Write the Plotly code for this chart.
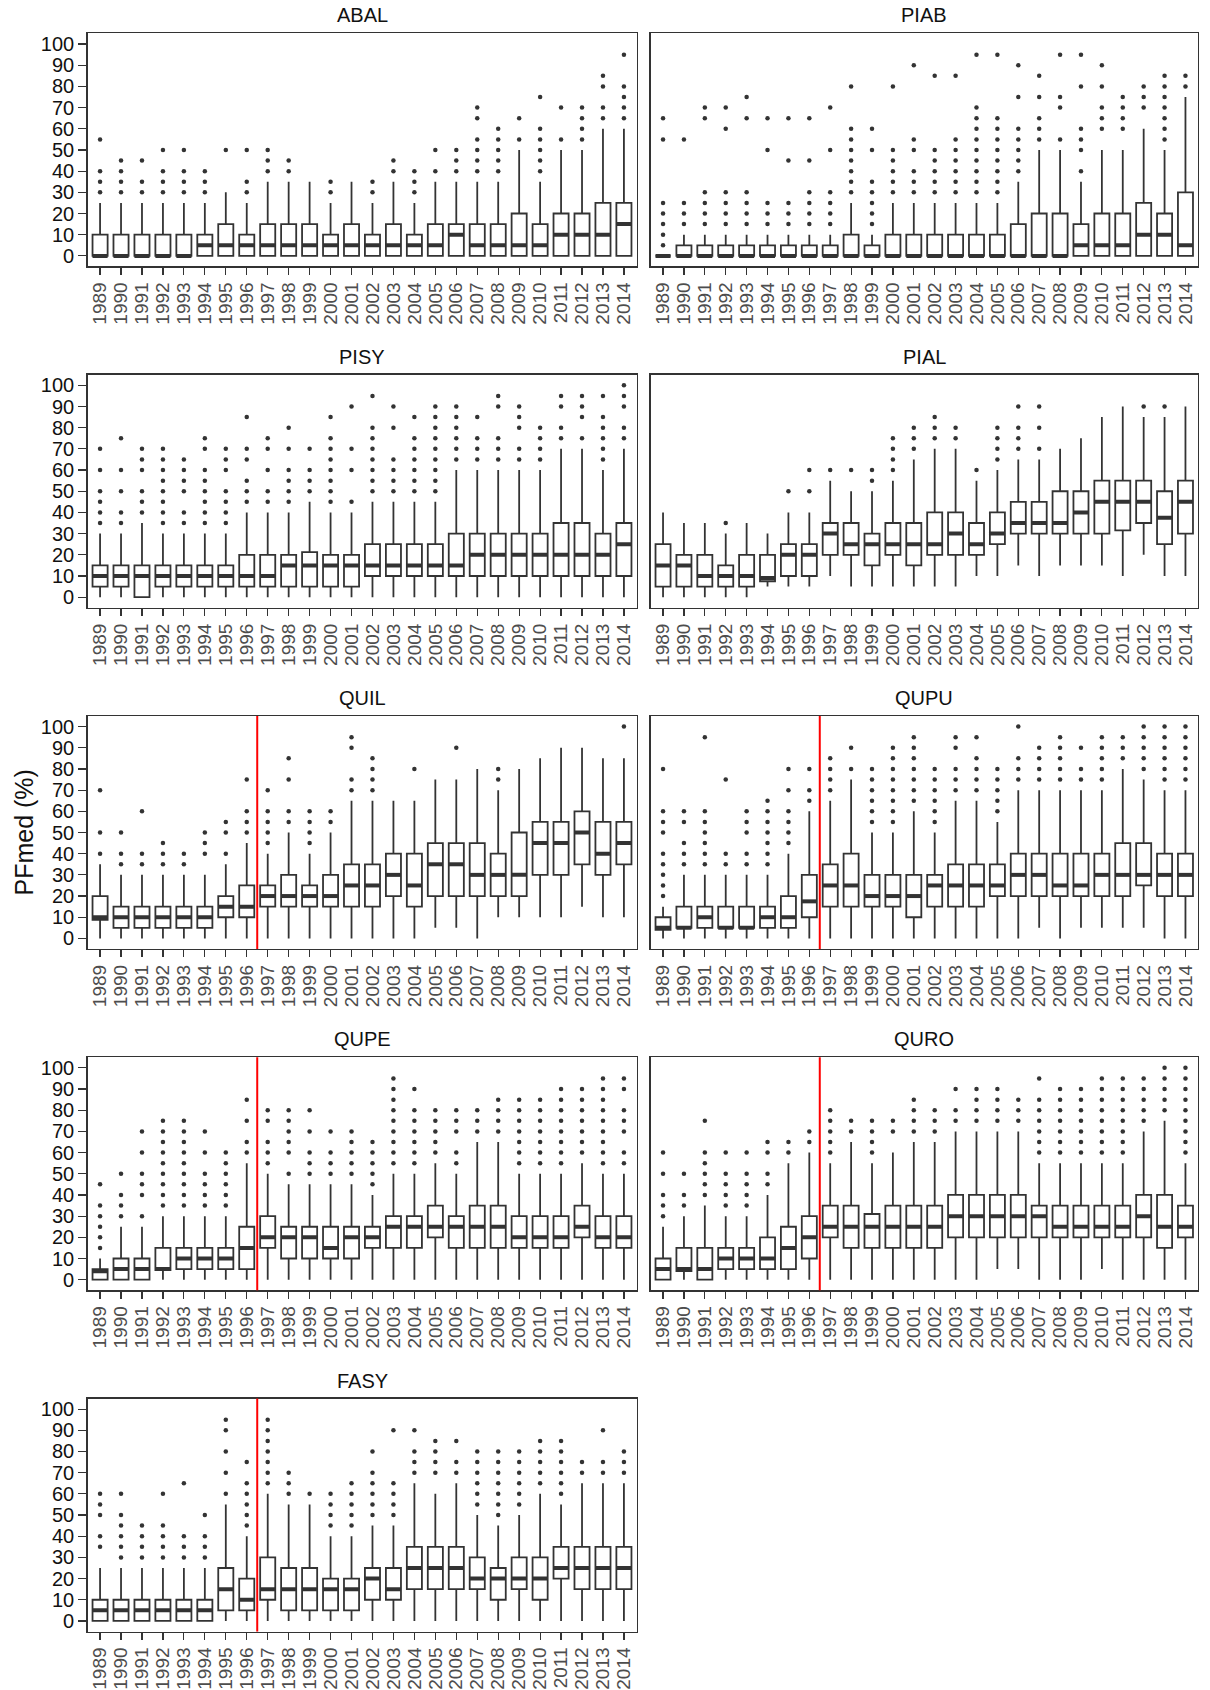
import plotly.graph_objects as go

# ---------------- data ----------------
YEARS = ["1989", "1990", "1991", "1992", "1993", "1994", "1995", "1996", "1997",
         "1998", "1999", "2000", "2001", "2002", "2003", "2004", "2005", "2006",
         "2007", "2008", "2009", "2010", "2011", "2012", "2013", "2014"]

PANELS = ["ABAL", "PIAB", "PISY", "PIAL", "QUIL", "QUPU", "QUPE", "QURO", "FASY"]
RED_LINE_PANELS = ["QUIL", "QUPU", "QUPE", "QURO", "FASY"]
RED_LINE_BETWEEN = ("1996", "1997")

Y_TICKS = [0, 10, 20, 30, 40, 50, 60, 70, 80, 90, 100]
Y_TITLE = "PFmed (%)"

# ABAL
ABAL_q1 = [0] * 26
ABAL_med = [0, 0, 0, 0, 0, 5, 5, 5, 5, 5, 5, 5, 5, 5, 5, 5, 5, 10, 5, 5, 5, 5, 10, 10, 10, 15]
ABAL_q3 = [10, 10, 10, 10, 10, 10, 15, 10, 15, 15, 15, 10, 15, 10, 15, 10, 15, 15, 15, 15, 20, 15, 20, 20, 25, 25]
ABAL_lo = [0] * 26
ABAL_hi = [25, 25, 25, 25, 25, 25, 30, 25, 35, 35, 35, 25, 35, 25, 35, 25, 35, 35, 35, 35, 50, 35, 50, 50, 60, 60]
ABAL_out = [[30, 35, 40, 55], [30, 35, 40, 45], [30, 35, 45], [30, 35, 40, 50], [30, 35, 40, 50],
            [30, 35, 40], [50], [30, 35, 50], [40, 45, 50], [40, 45], [], [30, 35], [], [30, 35],
            [40, 45], [30, 35, 40], [40, 50], [40, 45, 50], [40, 45, 50, 55, 65, 70],
            [40, 45, 50, 55, 60], [55, 65], [40, 45, 50, 55, 60, 75], [55, 70], [55, 60, 65, 70],
            [65, 70, 80, 85], [65, 70, 75, 80, 95]]

# PIAB
PIAB_q1 = [0] * 26
PIAB_med = [0, 0, 0, 0, 0, 0, 0, 0, 0, 0, 0, 0, 0, 0, 0, 0, 0, 0, 0, 0, 5, 5, 5, 10, 10, 5]
PIAB_q3 = [0, 5, 5, 5, 5, 5, 5, 5, 5, 10, 5, 10, 10, 10, 10, 10, 10, 15, 20, 20, 15, 20, 20, 25, 20, 30]
PIAB_lo = [0] * 26
PIAB_hi = [0, 10, 10, 10, 10, 10, 10, 10, 10, 25, 10, 25, 25, 25, 25, 25, 25, 35, 50, 50, 35, 50, 50, 60, 50, 75]
PIAB_out = [[5, 10, 15, 20, 25, 55, 65], [15, 20, 25, 55], [15, 20, 25, 30, 65, 70],
            [15, 20, 25, 30, 60, 70], [15, 20, 25, 30, 65, 75], [15, 20, 25, 50, 65],
            [15, 20, 25, 45, 65], [15, 20, 25, 30, 45, 65], [15, 20, 25, 30, 50, 70],
            [30, 35, 40, 45, 50, 55, 60, 80], [15, 20, 25, 30, 35, 50, 60],
            [30, 35, 40, 45, 50, 80], [30, 35, 40, 50, 55, 90], [30, 35, 40, 45, 50, 85],
            [30, 35, 40, 45, 50, 55, 85], [30, 35, 40, 45, 50, 55, 60, 65, 70, 95],
            [30, 35, 40, 45, 50, 55, 60, 65, 95], [40, 45, 50, 55, 60, 75, 90],
            [55, 60, 65, 75, 85], [55, 70, 75, 95], [40, 50, 55, 60, 80, 95],
            [60, 65, 70, 80, 90], [60, 65, 70, 75], [70, 75, 80],
            [55, 60, 65, 70, 75, 80, 85], [80, 85]]

# PISY
PISY_q1 = [5, 5, 0, 5, 5, 5, 5, 5, 5, 5, 5, 5, 5, 10, 10, 10, 10, 10, 10, 10, 10, 10, 10, 10, 10, 10]
PISY_med = [10, 10, 10, 10, 10, 10, 10, 10, 10, 15, 15, 15, 15, 15, 15, 15, 15, 15, 20, 20, 20, 20, 20, 20, 20, 25]
PISY_q3 = [15, 15, 15, 15, 15, 15, 15, 20, 20, 20, 21.25, 20, 20, 25, 25, 25, 25, 30, 30, 30, 30, 30, 35, 35, 30, 35]
PISY_lo = [0] * 26
PISY_hi = [30, 30, 35, 30, 30, 30, 30, 40, 40, 40, 45, 40, 40, 45, 45, 45, 45, 60, 60, 60, 60, 60, 70, 70, 60, 70]
PISY_out = [[35, 40, 45, 50, 60, 70], [35, 40, 50, 60, 75], [40, 45, 50, 60, 65, 70],
            [35, 40, 45, 50, 55, 60, 65, 70], [35, 40, 50, 55, 60, 65],
            [35, 40, 45, 50, 55, 60, 70, 75], [35, 40, 45, 50, 60, 65, 70],
            [45, 50, 55, 65, 70, 85], [45, 50, 60, 70, 75], [45, 50, 55, 60, 70, 80],
            [50, 55, 60, 70], [45, 50, 55, 60, 65, 70, 75, 85], [45, 60, 70, 90],
            [50, 55, 60, 65, 70, 75, 80, 95], [50, 55, 60, 65, 80, 90],
            [50, 55, 60, 65, 70, 75, 85], [50, 55, 60, 65, 70, 75, 80, 85, 90],
            [65, 70, 75, 80, 85, 90], [65, 70, 75, 85], [65, 70, 75, 90, 95],
            [65, 70, 80, 85, 90], [65, 70, 75, 80], [75, 80, 90, 95], [75, 85, 90, 95],
            [65, 70, 75, 80, 85, 95], [75, 80, 90, 95, 100]]

# PIAL
PIAL_q1 = [5, 5, 5, 5, 5, 7.5, 10, 10, 20, 20, 15, 20, 15, 20, 20, 20, 25, 30, 30, 30, 30, 30, 31.5, 35, 25, 30]
PIAL_med = [15, 15, 10, 10, 10, 9, 20, 20, 30, 25, 25, 25, 25, 25, 30, 25, 30, 35, 35, 35, 40, 45, 45, 45, 37.5, 45]
PIAL_q3 = [25, 20, 20, 15, 20, 20, 25, 25, 35, 35, 30, 35, 35, 40, 40, 35, 40, 45, 45, 50, 50, 55, 55, 55, 50, 55]
PIAL_lo = [0, 0, 0, 0, 0, 5, 5, 5, 10, 5, 5, 5, 5, 5, 5, 10, 10, 15, 10, 15, 15, 15, 10, 20, 10, 10]
PIAL_hi = [40, 35, 35, 30, 35, 30, 40, 40, 55, 50, 50, 55, 65, 70, 70, 55, 60, 65, 65, 70, 75, 85, 90, 85, 85, 90]
PIAL_out = [[], [], [], [35], [], [], [50], [50, 60], [60], [60], [55, 60], [60, 65, 70, 75],
            [70, 75, 80], [75, 80, 85], [75, 80], [60], [65, 70, 75, 80], [70, 75, 80, 90],
            [70, 80, 90], [], [], [], [], [90], [90], []]

# QUIL
QUIL_q1 = [8.75, 5, 5, 5, 5, 5, 10, 10, 15, 15, 15, 15, 15, 15, 20, 15, 20, 20, 20, 20, 20, 30, 30, 35, 30, 35]
QUIL_med = [10, 10, 10, 10, 10, 10, 15, 15, 20, 20, 20, 20, 25, 25, 30, 25, 35, 35, 30, 30, 30, 45, 45, 50, 40, 45]
QUIL_q3 = [20, 15, 15, 15, 15, 15, 20, 25, 25, 30, 25, 30, 35, 35, 40, 40, 45, 45, 45, 40, 50, 55, 55, 60, 55, 55]
QUIL_lo = [0, 0, 0, 0, 0, 0, 0, 0, 0, 0, 0, 0, 0, 0, 0, 0, 5, 5, 0, 10, 10, 10, 10, 15, 10, 10]
QUIL_hi = [35, 30, 30, 30, 30, 30, 35, 45, 40, 50, 40, 50, 65, 65, 65, 65, 75, 75, 80, 70, 80, 85, 90, 90, 85, 85]
QUIL_out = [[40, 50, 70], [35, 40, 50], [35, 40, 60], [35, 40, 45], [35, 40], [40, 45, 50],
            [40, 50, 55], [50, 55, 60, 75], [45, 50, 55, 60, 70], [55, 60, 75, 85],
            [45, 50, 55, 60], [55, 60], [70, 75, 90, 95], [70, 75, 80, 85], [], [80], [],
            [90], [], [75, 80], [], [], [], [], [], [100]]

# QUPU
QUPU_q1 = [4, 5, 5, 5, 5, 5, 5, 10, 15, 15, 15, 15, 10, 15, 15, 15, 20, 20, 20, 20, 20, 20, 20, 25, 20, 20]
QUPU_med = [5, 5, 10, 5, 5, 10, 10, 17.5, 25, 25, 20, 20, 20, 25, 25, 25, 25, 30, 30, 25, 25, 30, 30, 30, 30, 30]
QUPU_q3 = [10, 15, 15, 15, 15, 15, 20, 30, 35, 40, 30, 30, 30, 30, 35, 35, 35, 40, 40, 40, 40, 40, 45, 45, 40, 40]
QUPU_lo = [0, 0, 0, 0, 0, 0, 0, 0, 0, 0, 0, 0, 0, 0, 0, 0, 0, 0, 5, 0, 5, 5, 5, 5, 0, 0]
QUPU_hi = [15, 30, 30, 30, 30, 30, 40, 60, 65, 75, 50, 50, 60, 50, 65, 65, 55, 70, 70, 70, 70, 70, 80, 75, 70, 70]
QUPU_out = [[20, 25, 30, 35, 40, 50, 55, 60, 80], [35, 40, 45, 55, 60],
            [35, 40, 45, 50, 55, 60, 95], [35, 40, 75], [35, 40, 50, 55, 60],
            [35, 40, 45, 50, 55, 60, 65], [45, 50, 55, 60, 70, 80], [65, 70, 80],
            [70, 75, 80, 85], [80, 90], [55, 60, 65, 70, 75, 80],
            [55, 60, 65, 70, 75, 80, 85, 90], [65, 70, 75, 80, 85, 90, 95],
            [55, 60, 65, 70, 75, 80], [70, 75, 80, 90, 95], [70, 75, 80, 85, 95],
            [60, 65, 70, 75, 80], [75, 80, 85, 100], [75, 80, 85, 90], [75, 80, 85, 90, 95],
            [75, 80, 90], [75, 80, 85, 90, 95], [85, 90, 95], [80, 85, 90, 95, 100],
            [75, 80, 85, 90, 95, 100], [75, 80, 85, 90, 95, 100]]

# QUPE
QUPE_q1 = [0, 0, 0, 4.5, 5, 5, 5, 5, 15, 10, 10, 10, 10, 15, 15, 15, 20, 15, 15, 15, 15, 15, 15, 20, 15, 15]
QUPE_med = [4, 5, 5, 5, 10, 10, 10, 15, 20, 20, 20, 15, 20, 20, 25, 25, 25, 25, 25, 25, 20, 20, 20, 25, 20, 20]
QUPE_q3 = [5, 10, 10, 15, 15, 15, 15, 25, 30, 25, 25, 25, 25, 25, 30, 30, 35, 30, 35, 35, 30, 30, 30, 35, 30, 30]
QUPE_lo = [0] * 26
QUPE_hi = [10, 25, 25, 30, 30, 30, 30, 55, 50, 45, 45, 45, 45, 40, 50, 50, 55, 50, 65, 65, 50, 50, 50, 55, 50, 50]
QUPE_out = [[15, 20, 25, 30, 35, 45], [30, 35, 40, 50], [30, 40, 45, 50, 60, 70],
            [35, 40, 45, 50, 55, 60, 65, 70, 75], [35, 40, 45, 50, 55, 60, 65, 70, 75],
            [35, 40, 45, 50, 60, 70], [35, 40, 45, 50, 55, 60], [60, 65, 75, 85],
            [55, 60, 65, 75, 80], [50, 60, 65, 70, 75, 80], [50, 55, 60, 70, 80],
            [50, 55, 60, 70], [50, 55, 60, 65, 70], [45, 50, 55, 60, 65],
            [55, 60, 65, 70, 75, 80, 85, 90, 95], [55, 60, 65, 70, 75, 80, 90],
            [60, 65, 70, 75, 80], [55, 60, 70, 75, 80], [70, 75, 80], [70, 75, 80, 85],
            [55, 60, 65, 70, 75, 80, 85], [55, 60, 65, 70, 75, 80, 85],
            [55, 60, 65, 70, 75, 80, 85, 90], [60, 65, 70, 75, 80, 85, 90],
            [55, 60, 65, 70, 75, 80, 85, 90, 95], [55, 60, 70, 75, 80, 90, 95]]

# QURO
QURO_q1 = [0, 4, 0, 5, 5, 5, 5, 10, 20, 15, 15, 15, 15, 15, 20, 20, 20, 20, 20, 20, 20, 20, 20, 20, 15, 20]
QURO_med = [5, 5, 5, 10, 10, 10, 15, 20, 25, 25, 25, 25, 25, 25, 30, 30, 30, 30, 30, 25, 25, 25, 25, 30, 25, 25]
QURO_q3 = [10, 15, 15, 15, 15, 20, 25, 30, 35, 35, 31, 35, 35, 35, 40, 40, 40, 40, 35, 35, 35, 35, 35, 40, 40, 35]
QURO_lo = [0, 0, 0, 0, 0, 0, 0, 0, 0, 0, 0, 0, 0, 0, 0, 0, 5, 5, 0, 0, 0, 5, 0, 0, 0, 0]
QURO_hi = [25, 30, 35, 30, 30, 40, 55, 60, 55, 65, 55, 60, 65, 65, 70, 70, 70, 70, 55, 55, 55, 55, 55, 70, 75, 55]
QURO_out = [[30, 35, 40, 50, 60], [35, 40, 50], [40, 45, 50, 55, 60, 75], [35, 40, 45, 50, 60],
            [35, 40, 45, 50, 60], [45, 50, 60, 65], [60, 65], [65, 70], [60, 65, 70, 75, 80],
            [70, 75], [60, 65, 70, 75], [70, 75], [70, 75, 80, 85], [70, 75, 80],
            [75, 80, 90], [75, 80, 85, 90], [75, 80, 85, 90], [75, 80, 85],
            [60, 65, 70, 75, 80, 85, 95], [60, 65, 70, 75, 80, 85, 90],
            [60, 65, 70, 75, 80, 85, 90], [60, 65, 70, 75, 80, 85, 90, 95],
            [60, 65, 70, 75, 80, 85, 90, 95], [75, 80, 85, 90, 95], [80, 85, 90, 95, 100],
            [60, 65, 70, 75, 80, 85, 90, 95, 100]]

# FASY
FASY_q1 = [0, 0, 0, 0, 0, 0, 5, 5, 10, 5, 5, 5, 5, 10, 10, 15, 15, 15, 15, 10, 15, 10, 20, 15, 15, 15]
FASY_med = [5, 5, 5, 5, 5, 5, 15, 10, 15, 15, 15, 15, 15, 20, 15, 25, 25, 25, 20, 20, 20, 20, 25, 25, 25, 25]
FASY_q3 = [10, 10, 10, 10, 10, 10, 25, 20, 30, 25, 25, 20, 20, 25, 25, 35, 35, 35, 30, 25, 30, 30, 35, 35, 35, 35]
FASY_lo = [0] * 26
FASY_hi = [25, 25, 25, 25, 25, 25, 55, 40, 60, 55, 55, 40, 40, 45, 45, 65, 60, 65, 50, 45, 50, 60, 55, 65, 65, 65]
FASY_out = [[35, 40, 50, 55, 60], [30, 35, 40, 45, 50, 60], [30, 35, 40, 45], [30, 35, 40, 45, 60],
            [30, 35, 40, 65], [30, 35, 40, 50], [60, 70, 80, 90, 95], [45, 50, 55, 60, 65, 75],
            [65, 70, 75, 80, 85, 90, 95], [60, 65, 70], [60], [45, 50, 55, 60],
            [45, 50, 55, 60, 65], [50, 55, 60, 65, 70, 80], [50, 55, 60, 65, 90],
            [70, 75, 80, 90], [70, 75, 80, 85], [70, 75, 85], [55, 60, 65, 70, 75, 80],
            [50, 55, 60, 65, 70, 75, 80], [55, 60, 65, 70, 75, 80], [65, 70, 75, 80, 85],
            [60, 65, 70, 75, 80, 85], [70, 75], [70, 75, 90], [70, 75, 80]]

STATS = {
    "ABAL": (ABAL_q1, ABAL_med, ABAL_q3, ABAL_lo, ABAL_hi, ABAL_out),
    "PIAB": (PIAB_q1, PIAB_med, PIAB_q3, PIAB_lo, PIAB_hi, PIAB_out),
    "PISY": (PISY_q1, PISY_med, PISY_q3, PISY_lo, PISY_hi, PISY_out),
    "PIAL": (PIAL_q1, PIAL_med, PIAL_q3, PIAL_lo, PIAL_hi, PIAL_out),
    "QUIL": (QUIL_q1, QUIL_med, QUIL_q3, QUIL_lo, QUIL_hi, QUIL_out),
    "QUPU": (QUPU_q1, QUPU_med, QUPU_q3, QUPU_lo, QUPU_hi, QUPU_out),
    "QUPE": (QUPE_q1, QUPE_med, QUPE_q3, QUPE_lo, QUPE_hi, QUPE_out),
    "QURO": (QURO_q1, QURO_med, QURO_q3, QURO_lo, QURO_hi, QURO_out),
    "FASY": (FASY_q1, FASY_med, FASY_q3, FASY_lo, FASY_hi, FASY_out),
}

# ---------------- layout constants (window pixels) ----------------
W, H = 1210, 1690
COL_X = [(87.5, 636.5), (650.5, 1198)]
ROW_TOP0, ROW_STEP, PANEL_H = 33.5, 341.67, 233.3
BOX_WIDTH = 0.72
INK = "#333333"
FONT = "Liberation Sans, Arial, sans-serif"


def fx(px):
    return px / W


def fy(py):
    return 1 - py / H


fig = go.Figure()
layout_axes = {}
annotations = []
shapes = []

for i, name in enumerate(PANELS):
    k = i + 1
    row, col = divmod(i, 2)
    q1, med, q3, lo, hi, outs = STATS[name]
    xa, ya = f"x{k}", f"y{k}"

    x0p, x1p = COL_X[col]
    px_per_cat = (x1p - x0p) / 26.2
    median_len = BOX_WIDTH * px_per_cat

    fig.add_trace(go.Box(
        x=YEARS, q1=q1, median=med, q3=q3, lowerfence=lo, upperfence=hi,
        xaxis=xa, yaxis=ya, width=BOX_WIDTH, whiskerwidth=0,
        fillcolor="white", line=dict(color=INK, width=1.8),
        boxpoints=False, showlegend=False, hoverinfo="skip"))

    # thicker median bar (ggplot style); 'line-ew' marker length = 1.4 * size
    fig.add_trace(go.Scatter(
        x=YEARS, y=med, xaxis=xa, yaxis=ya, mode="markers",
        marker=dict(symbol="line-ew", size=median_len / 1.4,
                    line=dict(color=INK, width=4)),
        showlegend=False, hoverinfo="skip"))

    ox, oy = [], []
    for yr, vals in zip(YEARS, outs):
        for v in vals:
            ox.append(yr)
            oy.append(v)
    fig.add_trace(go.Scatter(
        x=ox, y=oy, xaxis=xa, yaxis=ya, mode="markers",
        marker=dict(size=4.5, color=INK), showlegend=False, hoverinfo="skip"))

    top = ROW_TOP0 + row * ROW_STEP
    bot = top + PANEL_H
    xdom = [fx(x0p), fx(x1p)]
    ydom = [fy(bot), fy(top)]

    sfx = "" if k == 1 else str(k)
    layout_axes["xaxis" + sfx] = dict(
        domain=xdom, anchor=ya, type="category", categoryorder="array",
        categoryarray=YEARS, range=[-0.6, 25.6], tickangle=-90,
        tickmode="array", tickvals=YEARS, ticktext=YEARS,
        tickfont=dict(family=FONT, size=19, color="#4D4D4D"),
        ticks="outside", ticklen=7, tickwidth=1.2, tickcolor=INK,
        showline=True, linecolor=INK, linewidth=1.3, mirror=True,
        showgrid=False, zeroline=False, fixedrange=True)
    layout_axes["yaxis" + sfx] = dict(
        domain=ydom, anchor=xa, range=[-5, 105],
        tickmode="array", tickvals=Y_TICKS, ticktext=[str(t) for t in Y_TICKS],
        showticklabels=(col == 0),
        tickfont=dict(family=FONT, size=20, color="#111111"),
        ticks="outside" if col == 0 else "", ticklen=8, tickwidth=1.2, tickcolor=INK,
        showline=True, linecolor=INK, linewidth=1.3, mirror=True,
        showgrid=False, zeroline=False, fixedrange=True)

    annotations.append(dict(
        text=name, xref="paper", yref="paper", x=(xdom[0] + xdom[1]) / 2,
        y=fy(top - 18), xanchor="center", yanchor="middle", showarrow=False,
        font=dict(family=FONT, size=20, color="#111111")))

    if name in RED_LINE_PANELS:
        xpos = (YEARS.index(RED_LINE_BETWEEN[0]) + YEARS.index(RED_LINE_BETWEEN[1])) / 2
        shapes.append(dict(type="line", xref=xa, yref=f"{ya} domain",
                           x0=xpos, x1=xpos, y0=0, y1=1,
                           line=dict(color="red", width=2)))

annotations.append(dict(
    text=Y_TITLE, xref="paper", yref="paper", x=fx(24),
    y=fy(ROW_TOP0 + (4 * ROW_STEP + PANEL_H) / 2),
    xanchor="center", yanchor="middle", textangle=-90, showarrow=False,
    font=dict(family=FONT, size=25, color="#111111")))

fig.update_layout(
    width=W, height=H, margin=dict(l=0, r=0, t=0, b=0),
    paper_bgcolor="white", plot_bgcolor="white", hovermode=False,
    annotations=annotations, shapes=shapes, **layout_axes)

# remove the browser's default 8px body margin so the figure fills the window
fig.write_html("out.html",
               config={"displayModeBar": False, "staticPlot": True},
               post_script="document.body.style.margin='0';"
                           "document.body.style.overflow='hidden';")
